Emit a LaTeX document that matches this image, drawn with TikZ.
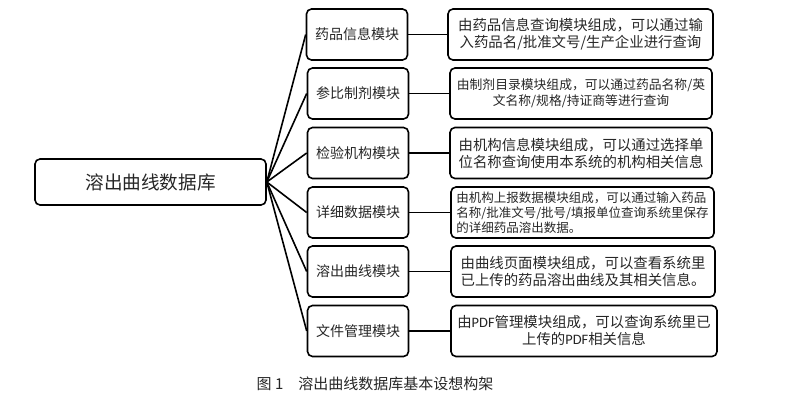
\documentclass[tikz,border=0pt]{standalone}
\usepackage{fontspec}
\newfontfamily\cjk{Noto Sans CJK SC}
\newfontfamily\pdffont{Carlito}
\newcommand{\PDF}{{\pdffont PDF}}
\begin{document}
\begin{tikzpicture}[x=1pt,y=-1pt,
    box/.style={draw,line width=1.6pt,rounded corners=5pt,inner sep=0pt,text=black!85,font=\cjk},
    modbox/.style={box,minimum width=101pt,minimum height=51pt,font=\cjk\fontsize{14}{17}\selectfont},
    infobox/.style={box,minimum width=262pt,minimum height=51pt,align=center,font=\cjk\fontsize{14.4}{17}\selectfont},
    link/.style={line width=1.6pt}]
    \useasboundingbox(0,0)rectangle(800,401);

    \node[box,minimum width=231pt,minimum height=46pt,font=\cjk\fontsize{18.6}{22}\selectfont](db)at(150.5,182){溶出曲线数据库};

    \node[modbox](m1)at(357,34.5){药品信息模块};
    \node[modbox](m2)at(358,93.5){参比制剂模块};
    \node[modbox](m3)at(358,153){检验机构模块};
    \node[modbox](m4)at(358,212.5){详细数据模块};
    \node[modbox](m5)at(358,271.5){溶出曲线模块};
    \node[modbox](m6)at(358,331){文件管理模块};

    \node[infobox,minimum width=265pt](i1)at(580.5,34.5){由药品信息查询模块组成，可以通过输\\入药品名/批准文号/生产企业进行查询};
    \node[infobox,font=\cjk\fontsize{12.8}{16}\selectfont](i2)at(581,93.5){由制剂目录模块组成，可以通过药品名称/英\\文名称/规格/持证商等进行查询};
    \node[infobox](i3)at(581,153){由机构信息模块组成，可以通过选择单\\位名称查询使用本系统的机构相关信息};
    \node[infobox,align=left,minimum width=263pt,font=\cjk\fontsize{12.5}{15}\selectfont](i4)at(582.5,212.5){由机构上报数据模块组成，可以通过输入药品\\名称/批准文号/批号/填报单位查询系统里保存\\的详细药品溶出数据。};
    \node[infobox,minimum width=264pt](i5)at(583,271.5){由曲线页面模块组成，可以查看系统里\\已上传的药品溶出曲线及其相关信息。};
    \node[infobox,minimum width=266pt](i6)at(584,331){由\PDF 管理模块组成，可以查询系统里已\\上传的\PDF 相关信息};

    \foreach \k in {1,...,6}{
        \draw[link](db.east)--(m\k.west);
        \draw[link](m\k.east)--(i\k.west);
    }

    \node[font=\cjk\fontsize{15}{18}\selectfont,text=black!85](cap)at(375,384){图 1\hspace{15pt}溶出曲线数据库基本设想构架};
\end{tikzpicture}
\end{document}
